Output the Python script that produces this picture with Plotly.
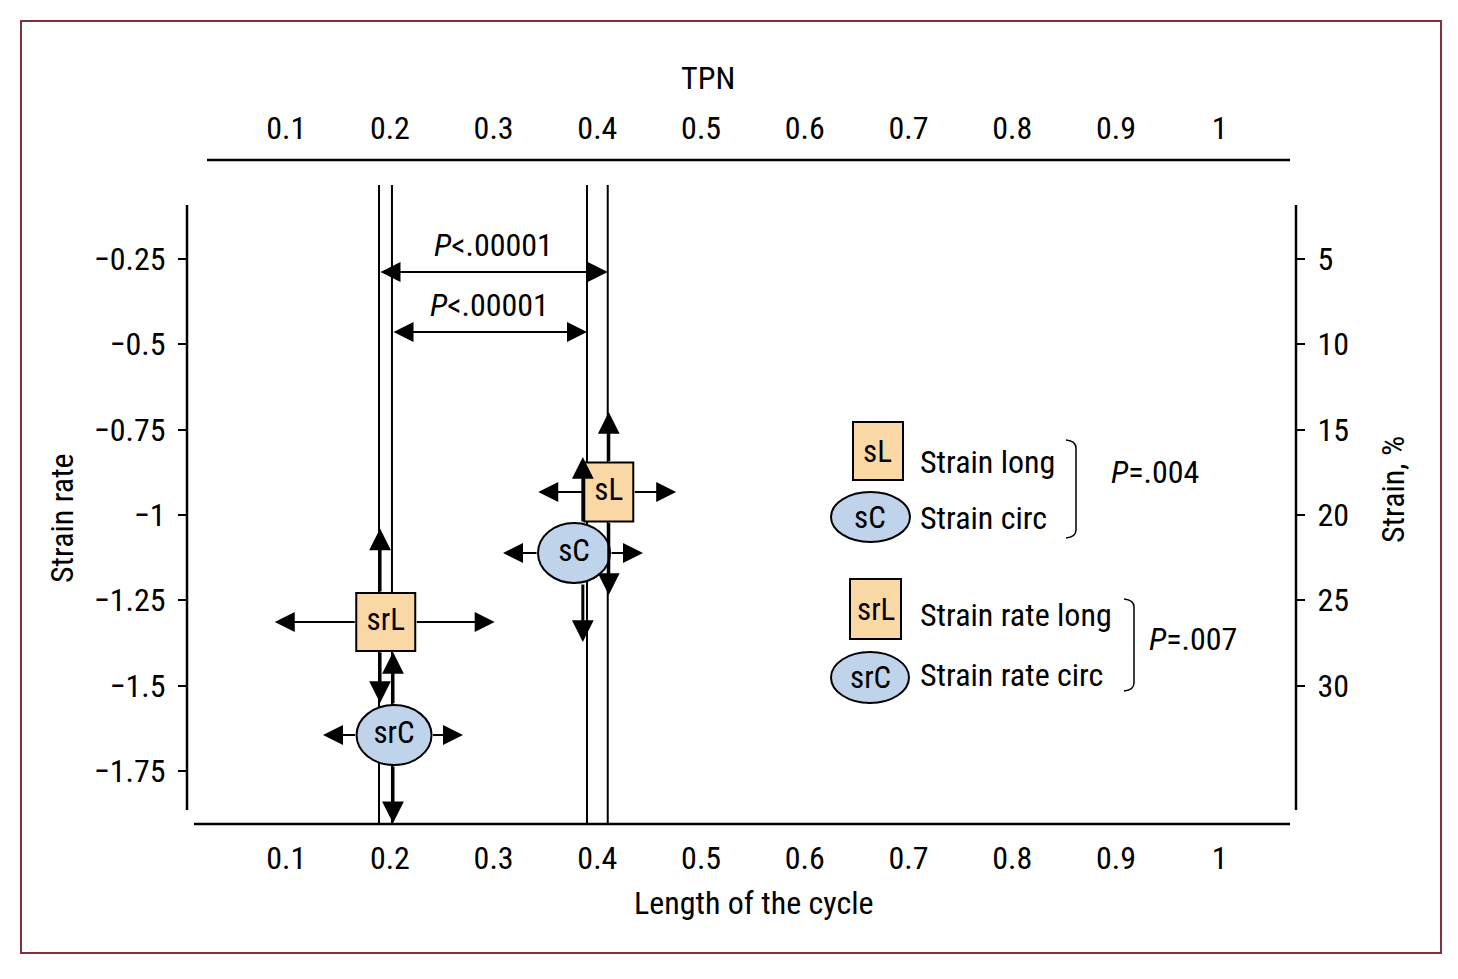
import plotly.graph_objects as go

# ---------------- data ----------------
x_ticks = [0.1, 0.2, 0.3, 0.4, 0.5, 0.6, 0.7, 0.8, 0.9, 1.0]
x_ticktext = ["0.1", "0.2", "0.3", "0.4", "0.5", "0.6", "0.7", "0.8", "0.9", "1"]
sr_ticks = [-0.25, -0.5, -0.75, -1.0, -1.25, -1.5, -1.75]
sr_ticktext = ["\u22120.25", "\u22120.5", "\u22120.75", "\u22121", "\u22121.25", "\u22121.5", "\u22121.75"]
strain_ticks = [5, 10, 15, 20, 25, 30]
strain_ticktext = ["5", "10", "15", "20", "25", "30"]

markers = ["sL", "sC", "srL", "srC"]
marker_names = ["Strain long", "Strain circ", "Strain rate long", "Strain rate circ"]
marker_axis = ["y2", "y2", "y", "y"]          # strain (%) on right axis, strain rate on left
marker_x = [0.411, 0.3775, 0.196, 0.204]
marker_y = [18.66, 22.23, -1.314, -1.645]
x_lo = [0.343, 0.309, 0.089, 0.1355]
x_hi = [0.476, 0.444, 0.301, 0.2705]
y_up = [13.97, 16.61, -1.04, -1.402]
y_down = [24.70, 27.45, -1.551, -1.903]
vbar_x = [0.411, 0.386, 0.1905, 0.203]

peak_lines = [0.1895, 0.202, 0.39, 0.41]
p_from = [0.1895, 0.202]
p_to = [0.41, 0.39]
p_y = [-0.2886, -0.4644]
p_text = ["<i>P</i>&lt;.00001", "<i>P</i>&lt;.00001"]
group_p = ["<i>P</i>=.004", "<i>P</i>=.007"]

# ---------------- layout geometry ----------------
W, H = 1458, 979
PAGE = 8                      # default page body margin
L, R, T, B = 187, 1296, 160, 824
x_range = [0.0044, 1.0735]
y_range = [-1.9055, 0.0394]
y2_range = [-20 * y_range[0], -20 * y_range[1]]

def PX(p):
    return (p - L) / (R - L)

def PY(p):
    return (B - p) / (B - T)

FONT = "Liberation Sans Narrow, Arial Narrow, Roboto Condensed, DejaVu Sans Condensed, sans-serif"
FS = 32
BOX_FILL = "#FAD8A6"
ELL_FILL = "#BFD4EB"
marker_size = {"sL": (49, 59), "sC": (72, 60), "srL": (59, 58), "srC": (75, 60)}

fig = go.Figure()

for ax in ["y", "y2"]:
    idx = [i for i in range(4) if marker_axis[i] == ax]
    fig.add_trace(go.Scatter(
        x=[marker_x[i] for i in idx], y=[marker_y[i] for i in idx],
        text=[markers[i] for i in idx], mode="text", yaxis=ax,
        textfont=dict(family=FONT, size=31, color="black"),
        hoverinfo="skip", showlegend=False))
fig.add_trace(go.Scatter(x=[None], y=[None], xaxis="x2", yaxis="y", showlegend=False, hoverinfo="skip"))

shapes = []
shapes.append(dict(type="rect", xref="paper", yref="paper", x0=PX(21), x1=PX(1441), y0=PY(953), y1=PY(21),
                   line=dict(color="#80303f", width=2), layer="below"))
line_k = dict(color="black", width=2.5)
shapes += [
    dict(type="line", xref="paper", yref="paper", x0=0, x1=0, y0=PY(810), y1=PY(205), line=line_k),
    dict(type="line", xref="paper", yref="paper", x0=1, x1=1, y0=PY(810), y1=PY(205), line=line_k),
    dict(type="line", xref="paper", yref="paper", x0=PX(194), x1=PX(1290), y0=0, y1=0, line=line_k),
    dict(type="line", xref="paper", yref="paper", x0=PX(207), x1=PX(1290), y0=1, y1=1, line=line_k),
]
for xv in peak_lines:
    shapes.append(dict(type="line", xref="x", yref="paper", x0=xv, x1=xv, y0=0, y1=PY(185),
                       line=dict(color="black", width=2), layer="below"))
for i, m in enumerate(markers):
    w, h = marker_size[m]
    shapes.append(dict(type="rect" if m.endswith("L") else "circle",
                       xref="x", yref=marker_axis[i], xsizemode="pixel", ysizemode="pixel",
                       xanchor=marker_x[i], yanchor=marker_y[i],
                       x0=-w / 2, x1=w / 2, y0=-h / 2, y1=h / 2,
                       fillcolor=BOX_FILL if m.endswith("L") else ELL_FILL,
                       line=dict(color="black", width=2), layer="below"))

annotations = []
def arrow(xh, yh, xt, yt, yref, sso, width=2.5, size=1.6, side="end"):
    return dict(x=xh, y=yh, ax=xt, ay=yt, xref="x", yref=yref, axref="x", ayref=yref,
                showarrow=True, arrowhead=2, arrowsize=size, arrowwidth=width, arrowcolor="black",
                startstandoff=sso, standoff=0, arrowside=side, text="")

for i, m in enumerate(markers):
    w, h = marker_size[m]
    yr = marker_axis[i]
    annotations.append(arrow(x_lo[i], marker_y[i], marker_x[i], marker_y[i], yr, w / 2, 2, 2.0))
    annotations.append(arrow(x_hi[i], marker_y[i], marker_x[i], marker_y[i], yr, w / 2, 2, 2.0))
    annotations.append(arrow(vbar_x[i], y_up[i], vbar_x[i], marker_y[i], yr, h / 2, 3, 1.45))
    annotations.append(arrow(vbar_x[i], y_down[i], vbar_x[i], marker_y[i], yr, h / 2, 3, 1.45))

def txt(x, y, text, xanchor="center", angle=0, size=FS, xref="paper", yref="paper", **kw):
    d = dict(x=x, y=y, xref=xref, yref=yref, text=text, showarrow=False, xanchor=xanchor,
             yanchor="middle", textangle=angle, font=dict(family=FONT, size=size, color="black"))
    d.update(kw)
    return d

for k in range(2):
    annotations.append(arrow(p_to[k], p_y[k], p_from[k], p_y[k], "y", 0, 2, 2.0, "end+start"))
    annotations.append(dict(x=(p_from[k] + p_to[k]) / 2, y=p_y[k], xref="x", yref="y", text=p_text[k],
                            showarrow=False, xanchor="center", yanchor="bottom", yshift=6,
                            font=dict(family=FONT, size=FS, color="black")))

# legend (drawn manually)
leg_center = [(878, 451), (870.5, 517), (875.5, 609), (870, 677.5)]
leg_size = [(50, 58), (79, 50), (51, 60), (78, 51)]
leg_text_y = [462, 518, 615, 675]
for i, m in enumerate(markers):
    cx, cy = leg_center[i]
    w, h = leg_size[i]
    shapes.append(dict(type="rect" if m.endswith("L") else "circle", xref="paper", yref="paper",
                       x0=PX(cx - w / 2), x1=PX(cx + w / 2), y0=PY(cy + h / 2), y1=PY(cy - h / 2),
                       fillcolor=BOX_FILL if m.endswith("L") else ELL_FILL,
                       line=dict(color="black", width=2), layer="below"))
    annotations.append(txt(PX(cx), PY(cy), m, size=31))
    annotations.append(txt(PX(918), PY(leg_text_y[i]), marker_names[i], xanchor="left"))

def bracket(xl, xr, yt, yb):
    return (f"M {PX(xl)} {PY(yt)} Q {PX(xr)} {PY(yt + 1)} {PX(xr)} {PY(yt + 8)} "
            f"L {PX(xr)} {PY(yb - 8)} Q {PX(xr)} {PY(yb - 1)} {PX(xl)} {PY(yb)}")
shapes.append(dict(type="path", xref="paper", yref="paper", path=bracket(1066, 1076, 440, 538),
                   line=dict(color="black", width=1.5)))
shapes.append(dict(type="path", xref="paper", yref="paper", path=bracket(1124, 1134, 599, 691),
                   line=dict(color="black", width=1.5)))
annotations.append(txt(PX(1109), PY(472), group_p[0], xanchor="left"))
annotations.append(txt(PX(1147), PY(639), group_p[1], xanchor="left"))

annotations += [
    txt(PX(708), PY(78), "TPN"),
    txt(PX(754), PY(903), "Length of the cycle"),
    txt(PX(62), PY(518), "Strain rate", angle=-90),
    txt(PX(1393), PY(490), "Strain, %", angle=-90),
]

tickfont = dict(family=FONT, size=FS, color="black")
fig.update_layout(
    width=W - PAGE, height=H - PAGE,
    margin=dict(l=L - PAGE, r=W - R, t=T - PAGE, b=H - B),
    paper_bgcolor="white", plot_bgcolor="white", showlegend=False,
    xaxis=dict(range=x_range, tickvals=x_ticks, ticktext=x_ticktext, showgrid=False, zeroline=False,
               showline=False, ticks="", tickfont=tickfont, ticklabelstandoff=12),
    xaxis2=dict(range=x_range, overlaying="x", side="top", tickvals=x_ticks, ticktext=x_ticktext,
                showgrid=False, zeroline=False, showline=False, ticks="", tickfont=tickfont,
                ticklabelstandoff=14),
    yaxis=dict(range=y_range, tickvals=sr_ticks, ticktext=sr_ticktext, showgrid=False, zeroline=False,
               showline=False, ticks="outside", ticklen=8, tickwidth=2, tickcolor="black",
               tickfont=tickfont, ticklabelstandoff=6),
    yaxis2=dict(range=y2_range, overlaying="y", side="right", tickvals=strain_ticks, ticktext=strain_ticktext,
                showgrid=False, zeroline=False, showline=False, ticks="outside", ticklen=8, tickwidth=2,
                tickcolor="black", tickfont=tickfont, ticklabelstandoff=6),
    shapes=shapes, annotations=annotations,
)

fig.write_html("out.html")
